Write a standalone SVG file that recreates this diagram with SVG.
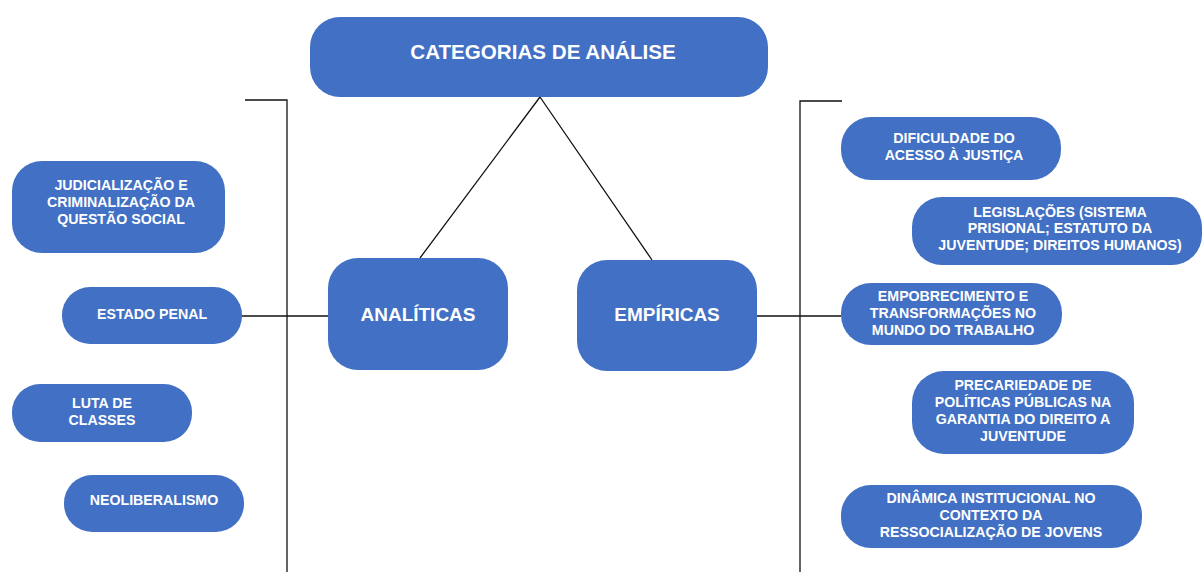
<svg xmlns="http://www.w3.org/2000/svg" width="1202" height="572" viewBox="0 0 1202 572">
<style>
.n{fill:#4170C4}
.t{font-family:"Liberation Sans",Arial,sans-serif;font-weight:bold;fill:#fff;text-anchor:middle;font-size:14.2px}
.b{font-size:19px}
.h{font-size:20.6px}
.c{stroke:#111;stroke-width:1.3;fill:none}
</style>
<rect width="1202" height="572" fill="#fff"/>
<g id="connectors">
<path class="c" d="M540 97 L420 258 M540 97 L652 260"/>
<path class="c" d="M245 100 H287 V572"/>
<path class="c" d="M842 101 H800 V572"/>
<path class="c" d="M242 316 H328"/>
<path class="c" d="M757 316 H841"/>
</g>
<g id="root"><rect class="n" x="310" y="17" width="458" height="80" rx="30"/><text class="t h" x="543" y="59">CATEGORIAS DE ANÁLISE</text></g>
<g id="analiticas"><rect class="n" x="328" y="258" width="180" height="112" rx="30"/><text class="t b" x="418" y="321">ANALÍTICAS</text></g>
<g id="empiricas"><rect class="n" x="577" y="260" width="180" height="111" rx="30"/><text class="t b" x="667" y="321">EMPÍRICAS</text></g>
<g id="judicializacao"><rect class="n" x="12" y="161" width="213" height="92" rx="30"/><text class="t" x="121" y="190">JUDICIALIZAÇÃO E</text><text class="t" x="121" y="207">CRIMINALIZAÇÃO DA</text><text class="t" x="121" y="224">QUESTÃO SOCIAL</text></g>
<g id="estado-penal"><rect class="n" x="62" y="287" width="180" height="57" rx="28"/><text class="t" x="152" y="319">ESTADO PENAL</text></g>
<g id="luta"><rect class="n" x="12" y="384" width="180" height="58" rx="28"/><text class="t" x="102" y="408">LUTA DE</text><text class="t" x="102" y="425">CLASSES</text></g>
<g id="neoliberalismo"><rect class="n" x="64" y="475" width="180" height="57" rx="28"/><text class="t" x="154" y="505">NEOLIBERALISMO</text></g>
<g id="dificuldade"><rect class="n" x="841" y="117" width="220" height="63" rx="30"/><text class="t" x="954" y="143">DIFICULDADE DO</text><text class="t" x="954" y="160">ACESSO À JUSTIÇA</text></g>
<g id="legislacoes"><rect class="n" x="912" y="197" width="290" height="68" rx="30"/><text class="t" x="1060" y="217">LEGISLAÇÕES (SISTEMA</text><text class="t" x="1060" y="233">PRISIONAL; ESTATUTO DA</text><text class="t" x="1060" y="250">JUVENTUDE; DIREITOS HUMANOS)</text></g>
<g id="empobrecimento"><rect class="n" x="841" y="283" width="221" height="62" rx="30"/><text class="t" x="953" y="301">EMPOBRECIMENTO E</text><text class="t" x="953" y="318">TRANSFORMAÇÕES NO</text><text class="t" x="953" y="335">MUNDO DO TRABALHO</text></g>
<g id="precariedade"><rect class="n" x="912" y="371" width="222" height="83" rx="32"/><text class="t" x="1023" y="390">PRECARIEDADE DE</text><text class="t" x="1023" y="407">POLÍTICAS PÚBLICAS NA</text><text class="t" x="1023" y="424">GARANTIA DO DIREITO A</text><text class="t" x="1023" y="441">JUVENTUDE</text></g>
<g id="dinamica"><rect class="n" x="841" y="485" width="301" height="63" rx="30"/><text class="t" x="991" y="503">DINÂMICA INSTITUCIONAL NO</text><text class="t" x="991" y="520">CONTEXTO DA</text><text class="t" x="991" y="537">RESSOCIALIZAÇÃO DE JOVENS</text></g>
</svg>
